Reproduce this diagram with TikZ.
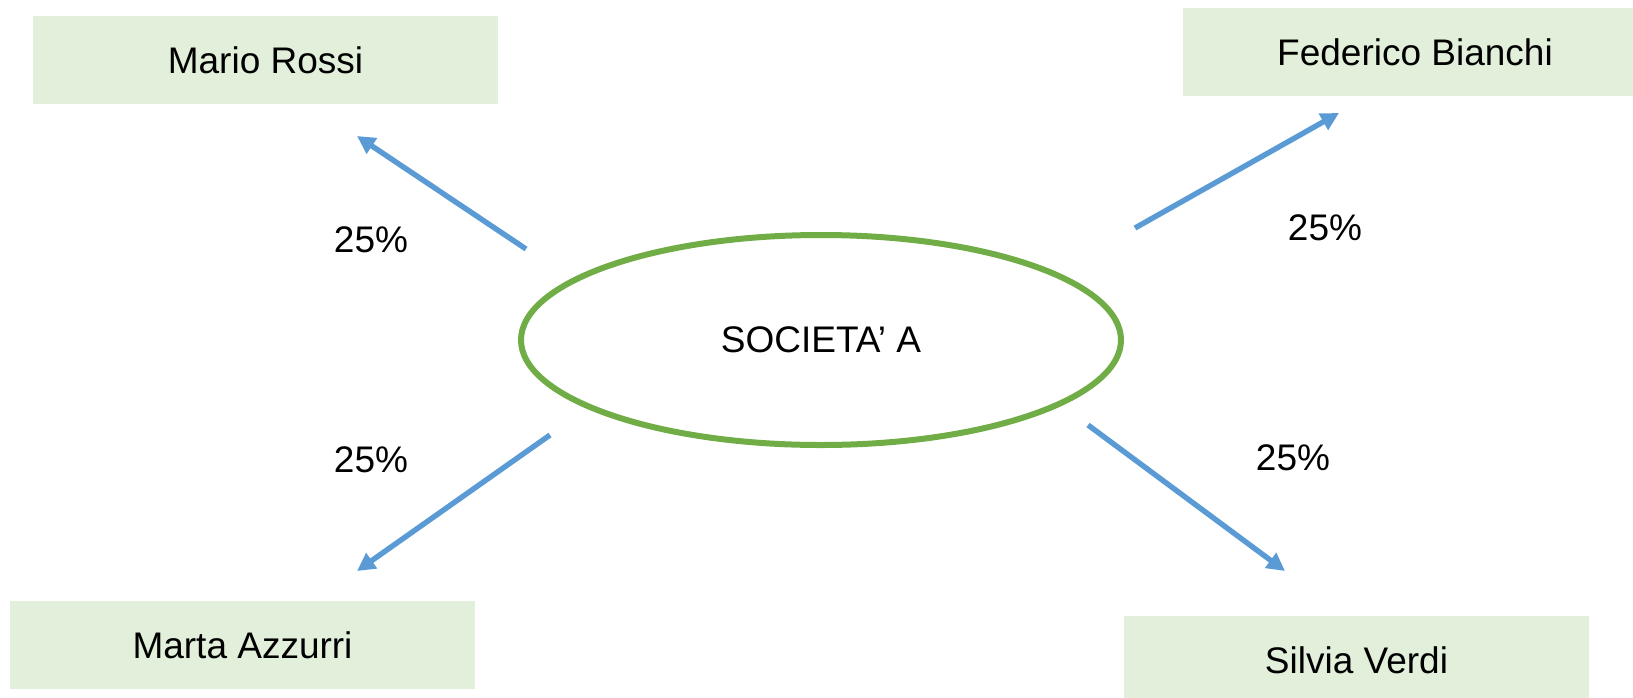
\documentclass[tikz,border=0pt]{standalone}
\usepackage{fontspec}
\setmainfont{Liberation Sans}
\usepackage{xcolor}
\usetikzlibrary{arrows.meta,shapes.geometric}
\definecolor{boxgreen}{HTML}{E2EFDA}
\definecolor{ringgreen}{HTML}{70AD47}
\definecolor{arrblue}{HTML}{5B9BD5}

\begin{document}
\begin{tikzpicture}[
  x=0.5pt, y=-0.5pt,
  person/.style={fill=boxgreen, minimum width=232.5pt, minimum height=44pt,
                 inner sep=0pt, font=\fontsize{18.5}{22}\selectfont},
  company/.style={ellipse, draw=ringgreen, line width=3pt, minimum width=300pt,
                  minimum height=105pt, inner sep=0pt, font=\fontsize{18.5}{22}\selectfont},
  share/.style={font=\fontsize{18.5}{22}\selectfont},
  arr/.style={draw=arrblue, line width=2.7pt, -{Triangle[length=9pt,width=9pt]}}
]
\useasboundingbox (0,0) rectangle (1633,697);
\clip (0,0) rectangle (1633,697);

\node[company] (soc) at (821,340) {SOCIETA’ A};

\node[person] (rossi) at (265.5,60) {Mario Rossi};
\node[person] (bianchi) at (1415,52) {Federico Bianchi};
\node[person] (azzurri) at (242.5,645) {Marta Azzurri};
\node[person] (verdi) at (1356.5,660) {Silvia Verdi};

\node[share] (p1) at (371,240) {25\%};
\node[share] (p2) at (1325,228) {25\%};
\node[share] (p3) at (371,460) {25\%};
\node[share] (p4) at (1293,458) {25\%};

% arrow ends
\coordinate (rossi-from) at (526,249);
\coordinate (rossi-to) at (357,136);
\coordinate (bianchi-from) at (1135,228);
\coordinate (bianchi-to) at (1339,113);
\coordinate (azzurri-from) at (550,435);
\coordinate (azzurri-to) at (357,571);
\coordinate (verdi-from) at (1088,425);
\coordinate (verdi-to) at (1285,571);

\draw[arr] (rossi-from) -- (rossi-to);
\draw[arr] (bianchi-from) -- (bianchi-to);
\draw[arr] (azzurri-from) -- (azzurri-to);
\draw[arr] (verdi-from) -- (verdi-to);
\end{tikzpicture}
\end{document}
